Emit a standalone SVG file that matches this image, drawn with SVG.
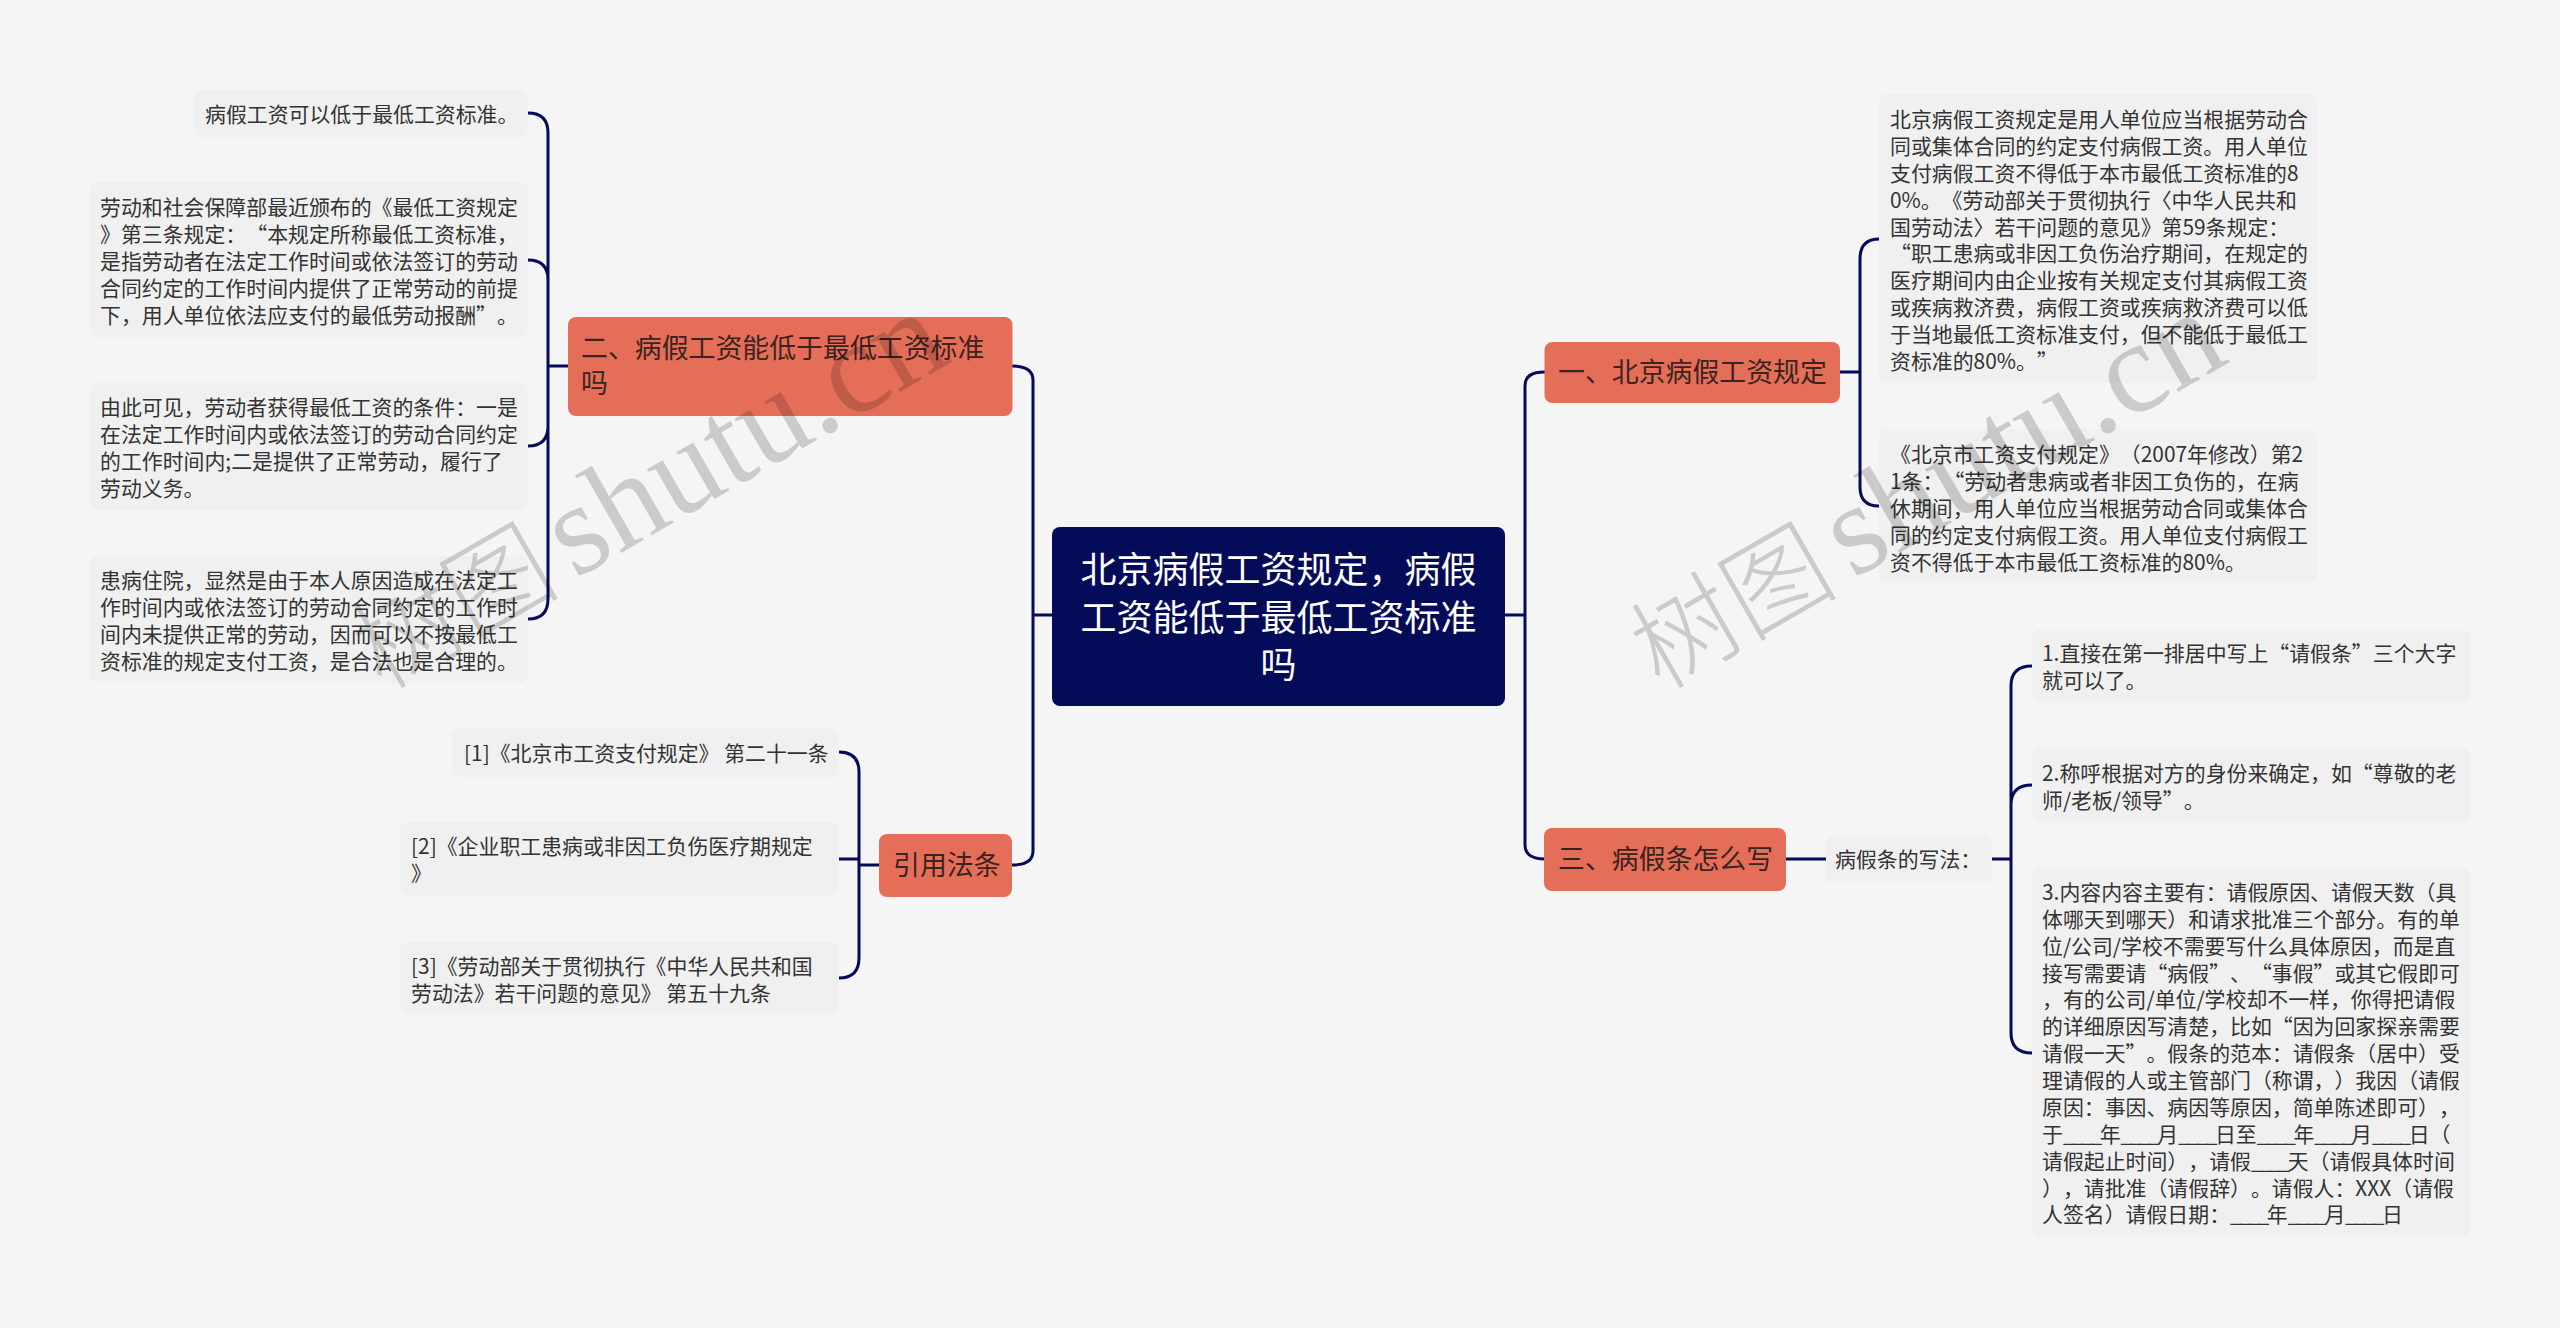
<svg xmlns="http://www.w3.org/2000/svg" width="2560" height="1328" viewBox="0 0 2560 1328">
<style>
text{font-family:"Noto Sans CJK SC","Liberation Sans",sans-serif;text-spacing-trim:space-all;font-feature-settings:"chws" 0,"halt" 0,"palt" 0;}
.leaf rect{fill:#f0f0f0;}
.leaf text{font-size:20.9px;fill:#333;}
.branch rect{fill:#e56e58;}
.branch text{font-size:26.9px;fill:#3a2320;}
#root rect{fill:#040b58;}
#root text{font-size:36px;fill:#fff;text-anchor:middle;}
#connectors path{fill:none;stroke:#040b58;stroke-width:3;stroke-linecap:round;}
.u{letter-spacing:-2.5px;}
.wm{font-family:"Liberation Serif","Noto Sans CJK SC",serif;font-size:130px;fill:#000;fill-opacity:.17;}
.wm .h{font-family:"Noto Sans CJK SC",serif;font-size:104px;font-weight:300;word-spacing:-8px;}
</style>
<rect width="2560" height="1328" fill="#f5f5f5"/>
<g id="connectors">
<path d="M1052 615H1033M1033 380Q1033 366 1012 366M1033 380V851Q1033 865 1012 865M1505 615H1525M1525 386Q1525 372 1544 372H1545M1525 386V845Q1525 859 1545 859"/>
<path d="M568 366H548M528 113Q548 113 548 133V599Q548 619 528 619M528 260Q548 260 548 280M528 446Q548 446 548 426"/>
<path d="M879 865H859M839 752Q859 752 859 772V958Q859 978 839 978M839 859H859"/>
<path d="M1840 372H1860M1879 239Q1860 239 1860 259V487Q1860 506 1879 506"/>
<path d="M1786 859H1826M1992 859H2011M2032 666Q2011 666 2011 686V1033Q2011 1053 2032 1053M2032 785Q2011 785 2011 805"/>
</g>
<g id="root"><rect x="1052" y="527" width="453" height="179" rx="8"/>
<text><tspan x="1278.5" y="583">北京病假工资规定，病假</tspan><tspan x="1278.5" y="631">工资能低于最低工资标准</tspan><tspan x="1278.5" y="678">吗</tspan></text></g>
<g id="b1" class="branch"><rect x="1544.500" y="342" width="295.500" height="61" rx="8"/><text x="1558" y="382">一、北京病假工资规定</text></g>
<g id="b2" class="branch"><rect x="568" y="317" width="444.500" height="99" rx="8"/><text><tspan x="581" y="358">二、病假工资能低于最低工资标准</tspan><tspan x="581" y="393">吗</tspan></text></g>
<g id="b3" class="branch"><rect x="1544" y="828" width="242" height="63" rx="8"/><text x="1558" y="869">三、病假条怎么写</text></g>
<g id="b4" class="branch"><rect x="879" y="834" width="133" height="63" rx="8"/><text x="893" y="875">引用法条</text></g>
<g id="l1" class="leaf"><rect x="194" y="90" width="334" height="47" rx="8"/><text x="205" y="122">病假工资可以低于最低工资标准。</text></g>
<g id="l2" class="leaf"><rect x="90" y="182" width="438" height="155" rx="8"/><text><tspan x="100" y="215">劳动和社会保障部最近颁布的《最低工资规定</tspan><tspan x="100" y="242">》第三条规定：“本规定所称最低工资标准，</tspan><tspan x="100" y="269">是指劳动者在法定工作时间或依法签订的劳动</tspan><tspan x="100" y="296">合同约定的工作时间内提供了正常劳动的前提</tspan><tspan x="100" y="323">下，用人单位依法应支付的最低劳动报酬”。</tspan></text></g>
<g id="l3" class="leaf"><rect x="90" y="383" width="438" height="127" rx="8"/><text><tspan x="100" y="415">由此可见，劳动者获得最低工资的条件：一是</tspan><tspan x="100" y="442">在法定工作时间内或依法签订的劳动合同约定</tspan><tspan x="100" y="469">的工作时间内;二是提供了正常劳动，履行了</tspan><tspan x="100" y="496">劳动义务。</tspan></text></g>
<g id="l4" class="leaf"><rect x="90" y="556" width="438" height="127" rx="8"/><text><tspan x="100" y="588">患病住院，显然是由于本人原因造成在法定工</tspan><tspan x="100" y="615">作时间内或依法签订的劳动合同约定的工作时</tspan><tspan x="100" y="642">间内未提供正常的劳动，因而可以不按最低工</tspan><tspan x="100" y="669">资标准的规定支付工资，是合法也是合理的。</tspan></text></g>
<g id="c1" class="leaf"><rect x="452" y="728" width="387" height="49" rx="8"/><text x="464" y="761">[1]《北京市工资支付规定》 第二十一条</text></g>
<g id="c2" class="leaf"><rect x="400" y="822" width="439" height="74" rx="8"/><text><tspan x="411" y="854">[2]《企业职工患病或非因工负伤医疗期规定</tspan><tspan x="411" y="881">》</tspan></text></g>
<g id="c3" class="leaf"><rect x="400" y="942" width="439" height="73" rx="8"/><text><tspan x="411" y="974">[3]《劳动部关于贯彻执行《中华人民共和国</tspan><tspan x="411" y="1001">劳动法》若干问题的意见》 第五十九条</tspan></text></g>
<g id="r1" class="leaf"><rect x="1879" y="94" width="438" height="289" rx="8"/><text><tspan x="1890" y="127">北京病假工资规定是用人单位应当根据劳动合</tspan><tspan x="1890" y="154">同或集体合同的约定支付病假工资。用人单位</tspan><tspan x="1890" y="181">支付病假工资不得低于本市最低工资标准的8</tspan><tspan x="1890" y="208">0%。《劳动部关于贯彻执行〈中华人民共和</tspan><tspan x="1890" y="235">国劳动法〉若干问题的意见》第59条规定：</tspan><tspan x="1890" y="261">“职工患病或非因工负伤治疗期间，在规定的</tspan><tspan x="1890" y="288">医疗期间内由企业按有关规定支付其病假工资</tspan><tspan x="1890" y="315">或疾病救济费，病假工资或疾病救济费可以低</tspan><tspan x="1890" y="342">于当地最低工资标准支付，但不能低于最低工</tspan><tspan x="1890" y="369">资标准的80%。”</tspan></text></g>
<g id="r2" class="leaf"><rect x="1879" y="429" width="438" height="154" rx="8"/><text><tspan x="1890" y="462">《北京市工资支付规定》（2007年修改）第2</tspan><tspan x="1890" y="489">1条：“劳动者患病或者非因工负伤的，在病</tspan><tspan x="1890" y="516">休期间，用人单位应当根据劳动合同或集体合</tspan><tspan x="1890" y="543">同的约定支付病假工资。用人单位支付病假工</tspan><tspan x="1890" y="570">资不得低于本市最低工资标准的80%。</tspan></text></g>
<g id="s0" class="leaf"><rect x="1826" y="836" width="166" height="47" rx="8"/><text x="1835" y="867">病假条的写法：</text></g>
<g id="s1" class="leaf"><rect x="2032" y="629" width="438" height="74" rx="8"/><text><tspan x="2042" y="661">1.直接在第一排居中写上“请假条”三个大字</tspan><tspan x="2042" y="688">就可以了。</tspan></text></g>
<g id="s2" class="leaf"><rect x="2032" y="748" width="438" height="75" rx="8"/><text><tspan x="2042" y="781">2.称呼根据对方的身份来确定，如“尊敬的老</tspan><tspan x="2042" y="808">师/老板/领导”。</tspan></text></g>
<g id="s3" class="leaf"><rect x="2032" y="868" width="438" height="369" rx="8"/><text><tspan x="2042" y="900">3.内容内容主要有：请假原因、请假天数（具</tspan><tspan x="2042" y="927">体哪天到哪天）和请求批准三个部分。有的单</tspan><tspan x="2042" y="954">位/公司/学校不需要写什么具体原因，而是直</tspan><tspan x="2042" y="981">接写需要请“病假”、“事假”或其它假即可</tspan><tspan x="2042" y="1007">，有的公司/单位/学校却不一样，你得把请假</tspan><tspan x="2042" y="1034">的详细原因写清楚，比如“因为回家探亲需要</tspan><tspan x="2042" y="1061">请假一天”。假条的范本：请假条（居中）受</tspan><tspan x="2042" y="1088">理请假的人或主管部门（称谓，）我因（请假</tspan><tspan x="2042" y="1115">原因：事因、病因等原因，简单陈述即可），</tspan><tspan x="2042" y="1142">于<tspan class="u">____</tspan>年<tspan class="u">____</tspan>月<tspan class="u">____</tspan>日至<tspan class="u">____</tspan>年<tspan class="u">____</tspan>月<tspan class="u">____</tspan>日（</tspan><tspan x="2042" y="1169">请假起止时间），请假<tspan class="u">____</tspan>天（请假具体时间</tspan><tspan x="2042" y="1196">），请批准（请假辞）。请假人：XXX（请假</tspan><tspan x="2042" y="1222">人签名）请假日期：<tspan class="u">____</tspan>年<tspan class="u">____</tspan>月<tspan class="u">____</tspan>日</tspan></text></g>
<text class="wm" transform="translate(382 691) rotate(-30)"><tspan class="h">树图 </tspan>shutu.cn</text>
<text class="wm" transform="translate(1660 691) rotate(-30)"><tspan class="h">树图 </tspan>shutu.cn</text>
</svg>
